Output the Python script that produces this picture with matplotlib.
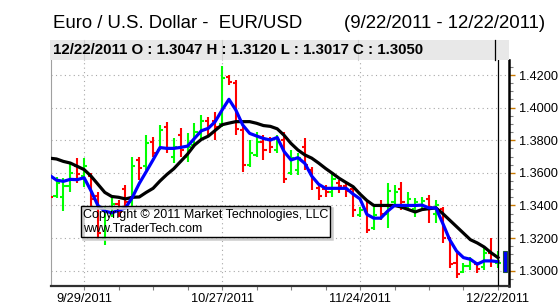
import matplotlib

matplotlib.use("Agg")
import matplotlib.pyplot as plt
from matplotlib.patches import Rectangle
from matplotlib.ticker import FixedLocator, MultipleLocator, FormatStrFormatter
import pandas as pd

plt.rcParams["font.family"] = ["Liberation Sans", "DejaVu Sans"]

# EUR/USD daily bars 9/22/2011 - 12/22/2011
dates = pd.bdate_range("2011-09-22", "2011-12-22")

opens = [1.3570, 1.3455, 1.3450, 1.3520, 1.3640, 1.3580, 1.3580, 1.3460, 1.3200, 1.3360,
         1.3410, 1.3500, 1.3420, 1.3680, 1.3640, 1.3790, 1.3740, 1.3880, 1.3700, 1.3830,
         1.3700, 1.3770, 1.3840, 1.3920, 1.3920, 1.3900, 1.4190, 1.4150, 1.3860, 1.3650,
         1.3710, 1.3790, 1.3800, 1.3740, 1.3800, 1.3600, 1.3620, 1.3760, 1.3620, 1.3510,
         1.3500, 1.3480, 1.3540, 1.3520, 1.3500, 1.3340, 1.3380, 1.3260, 1.3400, 1.3350,
         1.3420, 1.3500, 1.3390, 1.3380, 1.3400, 1.3440, 1.3350, 1.3380, 1.3200, 1.3050,
         1.2990, 1.3030, 1.3040, 1.3020, 1.3110, 1.3047]
highs = [1.3597, 1.3576, 1.3566, 1.3658, 1.3693, 1.3689, 1.3601, 1.3484, 1.3392, 1.3443,
         1.3433, 1.3525, 1.3699, 1.3699, 1.3832, 1.3822, 1.3893, 1.3914, 1.3811, 1.3873,
         1.3842, 1.3903, 1.3955, 1.3944, 1.3975, 1.4255, 1.4200, 1.4169, 1.3883, 1.3801,
         1.3852, 1.3832, 1.3822, 1.3832, 1.3852, 1.3740, 1.3719, 1.3811, 1.3638, 1.3535,
         1.3525, 1.3607, 1.3556, 1.3535, 1.3515, 1.3392, 1.3433, 1.3392, 1.3433, 1.3535,
         1.3525, 1.3546, 1.3484, 1.3443, 1.3454, 1.3464, 1.3433, 1.3392, 1.3208, 1.3106,
         1.3045, 1.3085, 1.3055, 1.3137, 1.3198, 1.3120]
lows = [1.3392, 1.3443, 1.3368, 1.3484, 1.3535, 1.3515, 1.3392, 1.3188, 1.3157, 1.3331,
        1.3331, 1.3382, 1.3392, 1.3556, 1.3617, 1.3699, 1.3740, 1.3719, 1.3658, 1.3699,
        1.3668, 1.3760, 1.3801, 1.3832, 1.3801, 1.3883, 1.4139, 1.3832, 1.3607, 1.3638,
        1.3699, 1.3679, 1.3719, 1.3719, 1.3535, 1.3587, 1.3587, 1.3617, 1.3494, 1.3433,
        1.3454, 1.3454, 1.3474, 1.3454, 1.3331, 1.3331, 1.3229, 1.3249, 1.3310, 1.3259,
        1.3392, 1.3372, 1.3372, 1.3331, 1.3382, 1.3290, 1.3290, 1.3167, 1.3014, 1.2952,
        1.2983, 1.3004, 1.2983, 1.3004, 1.3024, 1.3017]
closes = [1.3450, 1.3540, 1.3520, 1.3600, 1.3590, 1.3640, 1.3440, 1.3230, 1.3360, 1.3410,
          1.3360, 1.3420, 1.3640, 1.3630, 1.3780, 1.3720, 1.3860, 1.3750, 1.3760, 1.3740,
          1.3760, 1.3850, 1.3920, 1.3890, 1.3880, 1.4180, 1.4160, 1.3870, 1.3650, 1.3720,
          1.3790, 1.3740, 1.3760, 1.3800, 1.3560, 1.3690, 1.3690, 1.3650, 1.3560, 1.3460,
          1.3480, 1.3560, 1.3520, 1.3490, 1.3370, 1.3370, 1.3250, 1.3340, 1.3350, 1.3490,
          1.3480, 1.3420, 1.3440, 1.3420, 1.3430, 1.3390, 1.3400, 1.3200, 1.3040, 1.2980,
          1.3030, 1.3060, 1.3010, 1.3110, 1.3060, 1.3050]

# short (blue) and long (black) moving averages as drawn
ma_fast = [1.3585, 1.3555, 1.3548, 1.3560, 1.3558, 1.3570, 1.3490, 1.3400, 1.3365, 1.3355,
           1.3370, 1.3385, 1.3450, 1.3535, 1.3607, 1.3680, 1.3755, 1.3750, 1.3750, 1.3756,
           1.3764, 1.3811, 1.3858, 1.3873, 1.3914, 1.3985, 1.4051, 1.3985, 1.3893, 1.3842,
           1.3826, 1.3811, 1.3801, 1.3817, 1.3730, 1.3679, 1.3693, 1.3658, 1.3580, 1.3530,
           1.3505, 1.3505, 1.3505, 1.3505, 1.3470, 1.3440, 1.3345, 1.3322, 1.3322, 1.3365,
           1.3400, 1.3400, 1.3400, 1.3400, 1.3402, 1.3385, 1.3385, 1.3290, 1.3190, 1.3120,
           1.3080, 1.3070, 1.3040, 1.3060, 1.3060, 1.3055]
ma_slow = [1.3690, 1.3685, 1.3670, 1.3660, 1.3640, 1.3620, 1.3580, 1.3530, 1.3480, 1.3455,
           1.3450, 1.3440, 1.3450, 1.3452, 1.3480, 1.3505, 1.3550, 1.3590, 1.3625, 1.3670,
           1.3715, 1.3770, 1.3805, 1.3825, 1.3860, 1.3895, 1.3905, 1.3914, 1.3914, 1.3914,
           1.3904, 1.3890, 1.3885, 1.3870, 1.3830, 1.3780, 1.3740, 1.3710, 1.3690, 1.3660,
           1.3627, 1.3597, 1.3566, 1.3540, 1.3515, 1.3470, 1.3430, 1.3400, 1.3400, 1.3400,
           1.3400, 1.3390, 1.3375, 1.3360, 1.3375, 1.3380, 1.3385, 1.3350, 1.3310, 1.3270,
           1.3230, 1.3190, 1.3170, 1.3145, 1.3110, 1.3080]

label_dates = ["2011-09-29", "2011-10-27", "2011-11-24", "2011-12-22"]
y_ticks = [1.30, 1.32, 1.34, 1.36, 1.38, 1.40, 1.42]

W, H = 559, 305
fig = plt.figure(figsize=(W / 100, H / 100), dpi=100)
ax = fig.add_axes([51 / W, 19 / H, 458 / W, 226 / H])

xs = list(range(len(dates)))
up, dn = "#00ff00", "#ff0000"
cols = [up if c >= o else dn for o, c in zip(opens, closes)]
ax.vlines(xs, lows, highs, colors=cols, linewidth=1.5, zorder=3)
ax.hlines(opens, [x - 0.45 for x in xs], xs, colors=cols, linewidth=1.5, zorder=3)
ax.hlines(closes, xs, [x + 0.45 for x in xs], colors=cols, linewidth=1.5, zorder=3)

ax.plot(xs, ma_slow, color="black", linewidth=2.3, zorder=4, solid_joinstyle="round")
ax.plot(xs, ma_fast, color="#0000ff", linewidth=2.3, zorder=5, solid_joinstyle="round")

# last price marker on the right
ax.add_patch(Rectangle((65.75, 1.2990), 0.55, 0.0130, facecolor="#0000ff",
                       edgecolor="#1f4f3f", linewidth=0.8, zorder=6))

tick_pos = [list(dates.strftime("%Y-%m-%d")).index(d) for d in label_dates]
cursor = tick_pos[-1]
ax.axvline(cursor, color="black", linewidth=0.9, zorder=6)

ax.set_xlim(0.2, 66.6)
ax.set_ylim(1.2906, 1.4292)

ax.xaxis.set_major_locator(FixedLocator(tick_pos))
ax.set_xticklabels([dates[p].strftime("%-m/%-d/%Y") for p in tick_pos])
ax.xaxis.set_minor_locator(FixedLocator(list(range(5, 66, 5))))
ax.tick_params(axis="x", which="both", direction="out", length=3, width=0.8,
               color="#808080", labelsize=9.2, pad=2)

ax.yaxis.tick_right()
ax.yaxis.set_major_locator(FixedLocator(y_ticks))
ax.yaxis.set_minor_locator(MultipleLocator(0.005))
ax.yaxis.set_major_formatter(FormatStrFormatter("%.4f"))
ax.tick_params(axis="y", which="major", length=4, width=1, color="#c87800",
               labelsize=9.2, pad=3)
ax.tick_params(axis="y", which="minor", length=3, width=0.8, color="#808080")

for v in y_ticks:
    ax.axhline(v, color="#a8a8a8", linewidth=0.8, linestyle=(0, (1, 3)), zorder=1)
for p in tick_pos[:-1]:
    ax.axvline(p, color="#a8a8a8", linewidth=0.8, linestyle=(0, (1, 3)), zorder=1)

ax.spines["top"].set_visible(False)
ax.spines["left"].set_color("#a0a0a0")
ax.spines["left"].set_linewidth(0.8)
ax.spines["bottom"].set_color("#303030")
ax.spines["bottom"].set_linewidth(1.6)
ax.spines["right"].set_color("black")
ax.spines["right"].set_linewidth(1.8)

# overlay in pixel coordinates for title, header bar and copyright box
ov = fig.add_axes([0, 0, 1, 1], zorder=10)
ov.set_xlim(0, W)
ov.set_ylim(H, 0)
ov.axis("off")
ov.patch.set_alpha(0)

ov.text(53, 28, "Euro / U.S. Dollar -  EUR/USD", fontsize=13.4, va="baseline", ha="left")
ov.text(545, 28, "(9/22/2011 - 12/22/2011)", fontsize=13.4, va="baseline", ha="right")

ov.add_patch(Rectangle((50, 40), 459, 20, facecolor="#e8e8e8", edgecolor="none"))
for p in [84, 222, 358]:
    ov.plot([p, p], [40, 60], color="#d0d0d0", linewidth=0.8)
ov.plot([495, 495], [40, 60], color="black", linewidth=0.9)
ov.text(53, 54.5, "12/22/2011 O : 1.3047 H : 1.3120 L : 1.3017 C : 1.3050",
        fontsize=10.8, fontweight="bold", va="baseline", ha="left")

ov.add_patch(Rectangle((82.5, 208), 249.5, 30.5, facecolor="none", edgecolor="#cccccc",
                       linewidth=1.8))
ov.add_patch(Rectangle((80.7, 205.7), 249.3, 31, facecolor="none", edgecolor="black",
                       linewidth=1))
ov.text(82.7, 218.3, "Copyright \u00a9 2011 Market Technologies, LLC", fontsize=9,
        va="baseline", ha="left")
ov.text(82.7, 232.3, "www.TraderTech.com", fontsize=9, va="baseline", ha="left")

fig.savefig("out.png", dpi=100)
